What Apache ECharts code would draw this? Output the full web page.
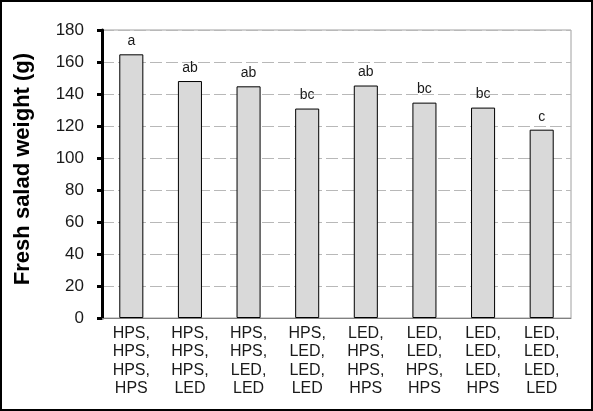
<!DOCTYPE html>
<html>
<head>
<meta charset="utf-8">
<script src="https://cdn.jsdelivr.net/npm/echarts@6/dist/echarts.min.js"></script>
<style>
  html, body { margin: 0; padding: 0; background: #fff; }
  .wrap { position: relative; width: 593px; height: 411px; }
  #chart { position: absolute; left: 0; top: 0; width: 593px; height: 411px; }
  .frame {
    position: absolute; left: 0; top: 0; width: 593px; height: 411px;
    box-sizing: border-box; border: 2px solid #000; pointer-events: none;
  }
</style>
</head>
<body>
<div class="wrap">
  <div id="chart"></div>
  <div class="frame"></div>
</div>
<script>
  // light treatments, one per bar
  const categories = [
    'HPS,\nHPS,\nHPS,\nHPS',
    'HPS,\nHPS,\nHPS,\nLED',
    'HPS,\nHPS,\nLED,\nLED',
    'HPS,\nLED,\nLED,\nLED',
    'LED,\nHPS,\nHPS,\nHPS',
    'LED,\nLED,\nHPS,\nHPS',
    'LED,\nLED,\nLED,\nHPS',
    'LED,\nLED,\nLED,\nLED'
  ];
  const weights = [164.8, 148.1, 144.8, 130.9, 145.3, 134.6, 131.5, 117.7];
  const letters = ['a', 'ab', 'ab', 'bc', 'ab', 'bc', 'bc', 'c'];
  const yTicks = { min: 0, max: 180, step: 20 };

  const chart = echarts.init(document.getElementById('chart'));

  const option = {
    animation: false,
    textStyle: { fontFamily: 'Liberation Sans, Arial, sans-serif' },
    grid: {
      left: 102,
      right: 22,
      top: 30,
      bottom: 93,
      show: true,
      borderColor: '#a0a0a0',
      borderWidth: 1
    },
    xAxis: {
      type: 'category',
      data: categories,
      axisLine: { show: true, lineStyle: { color: '#808080', width: 1 } },
      axisTick: { show: false },
      axisLabel: {
        interval: 0,
        margin: 6,
        fontSize: 16,
        lineHeight: 18.5,
        color: '#1a1a1a'
      }
    },
    yAxis: {
      type: 'value',
      min: yTicks.min,
      max: yTicks.max,
      interval: yTicks.step,
      name: 'Fresh salad weight (g)',
      nameLocation: 'middle',
      nameGap: 68,
      nameTextStyle: {
        fontSize: 22,
        fontWeight: 'bold',
        color: '#000',
        padding: [0, 0, 0, 10]
      },
      axisLine: { show: true, lineStyle: { color: '#000', width: 3 } },
      axisTick: { show: true, inside: false, length: 5, lineStyle: { color: '#000', width: 3 } },
      axisLabel: { fontSize: 17, margin: 18, color: '#1a1a1a' },
      splitLine: {
        show: true,
        lineStyle: { color: '#b8b8b8', width: 1, type: [12, 4] }
      }
    },
    series: [
      {
        type: 'bar',
        data: weights,
        barWidth: '41%',
        itemStyle: {
          color: '#d9d9d9',
          borderColor: '#000',
          borderWidth: 1
        },
        label: {
          show: true,
          position: 'top',
          distance: 6,
          fontSize: 14,
          color: '#1a1a1a',
          formatter: (p) => letters[p.dataIndex]
        }
      }
    ]
  };

  chart.setOption(option);
</script>
</body>
</html>
